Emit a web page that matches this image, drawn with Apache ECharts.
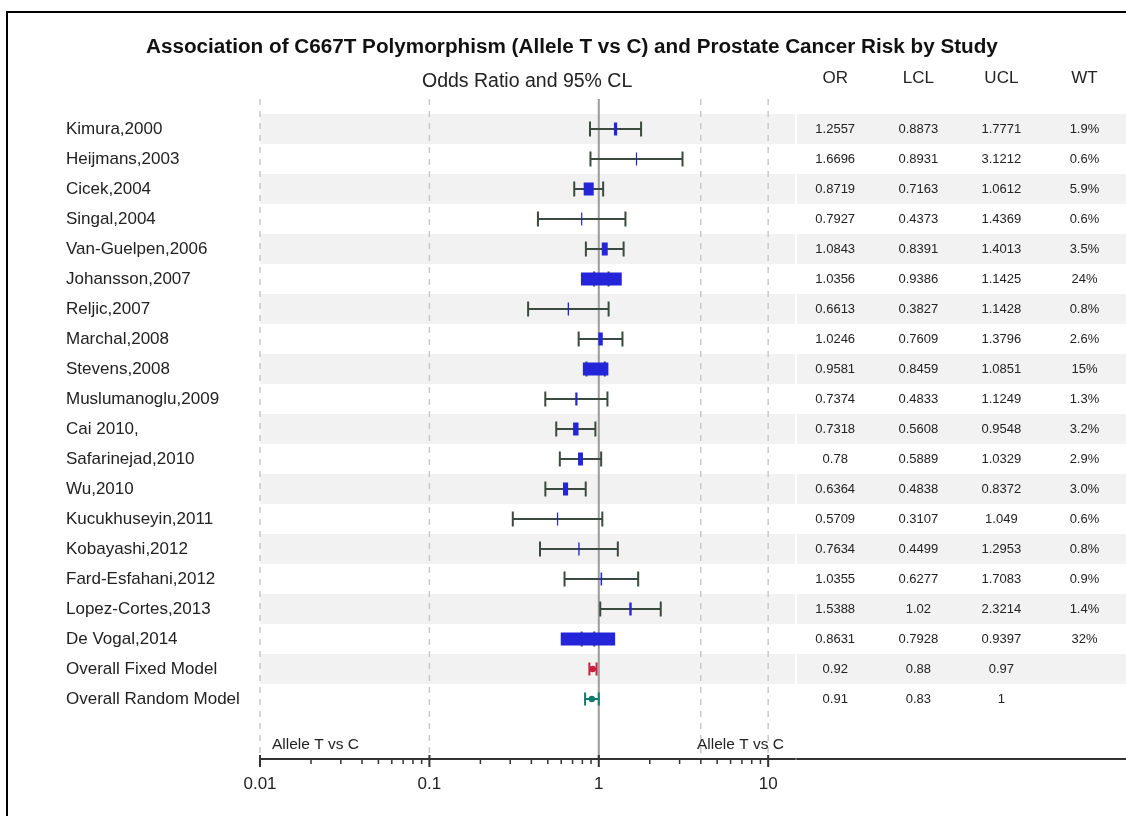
<!DOCTYPE html>
<html><head><meta charset="utf-8">
<script src="https://cdn.jsdelivr.net/npm/echarts@6/dist/echarts.min.js"></script>
<style>html,body{margin:0;padding:0;background:#fff}#c{width:1126px;height:816px}</style>
</head><body><div id="c"></div>
<script>
// ---------- data ----------
const studies = ['Kimura,2000','Heijmans,2003','Cicek,2004','Singal,2004','Van-Guelpen,2006','Johansson,2007','Reljic,2007','Marchal,2008','Stevens,2008','Muslumanoglu,2009','Cai 2010,','Safarinejad,2010','Wu,2010','Kucukhuseyin,2011','Kobayashi,2012','Fard-Esfahani,2012','Lopez-Cortes,2013','De Vogal,2014'];
const orVals  = [1.2557,1.6696,0.8719,0.7927,1.0843,1.0356,0.6613,1.0246,0.9581,0.7374,0.7318,0.78,0.6364,0.5709,0.7634,1.0355,1.5388,0.8631];
const lclVals = [0.8873,0.8931,0.7163,0.4373,0.8391,0.9386,0.3827,0.7609,0.8459,0.4833,0.5608,0.5889,0.4838,0.3107,0.4499,0.6277,1.02,0.7928];
const uclVals = [1.7771,3.1212,1.0612,1.4369,1.4013,1.1425,1.1428,1.3796,1.0851,1.1249,0.9548,1.0329,0.8372,1.049,1.2953,1.7083,2.3214,0.9397];
const wtVals  = [1.9,0.6,5.9,0.6,3.5,24,0.8,2.6,15,1.3,3.2,2.9,3.0,0.6,0.8,0.9,1.4,32];
const overallLabels = ['Overall Fixed Model','Overall Random Model'];
const overallOR  = [0.92,0.91];
const overallLCL = [0.88,0.83];
const overallUCL = [0.97,1];
const tableHeaders = ['OR','LCL','UCL','WT'];
const tickValues = [0.01,0.1,1,10];
const tickLabels = ['0.01','0.1','1','10'];
const refDashed = [0.01,0.1,4,10];
const refSolid = [1];
const sideLabel = 'Allele T vs C';
const titleText = 'Association of C667T Polymorphism (Allele T vs C) and Prostate Cancer Risk by Study';
const subText = 'Odds Ratio and 95% CL';

// ---------- derived ----------
const rowLabels = studies.concat(overallLabels);
const nRows = rowLabels.length;
const X_MIN = 0.01, X_MAX = 14.4, Y_MIN = -1, Y_MAX = 21;
const FONT = '"Liberation Sans", Arial, sans-serif';

const ciData = studies.map((s,i)=>[i, lclVals[i], uclVals[i], orVals[i], wtVals[i]]);
const ovData = overallLabels.map((s,k)=>[studies.length+k, overallLCL[k], overallUCL[k], overallOR[k], k]);
const bandRows = [];
for (let i=0;i<nRows;i+=2) bandRows.push([i]);
const minorTicks = [];
for (const d of [0.01,0.1,1]) for (let m=2;m<=9;m++) minorTicks.push(+(d*m).toPrecision(3));

function fmtWt(w){ return (w>=10 ? String(Math.round(w)) : w.toFixed(1)) + '%'; }
const tableCells = [];
const colPos = [0.5,1.5,2.5,3.5];
studies.forEach((s,i)=>{
  tableCells.push([colPos[0], i, String(orVals[i])]);
  tableCells.push([colPos[1], i, String(lclVals[i])]);
  tableCells.push([colPos[2], i, String(uclVals[i])]);
  tableCells.push([colPos[3], i, fmtWt(wtVals[i])]);
});
overallLabels.forEach((s,k)=>{
  const r = studies.length+k;
  tableCells.push([colPos[0], r, String(overallOR[k])]);
  tableCells.push([colPos[1], r, String(overallLCL[k])]);
  tableCells.push([colPos[2], r, String(overallUCL[k])]);
});
const headerCells = tableHeaders.map((h,j)=>[colPos[j], -1.7, h]);

const CI_COLOR = '#3b4a3e', BOX_COLOR = '#2424d8';
const OV_COLORS = ['#c8203e','#127a6c'];

const chart = echarts.init(document.getElementById('c'), null, {renderer:'canvas'});

const option = {
  animation:false,
  backgroundColor:'#fff',
  title:[
    {text:titleText, left:141, top:32, textStyle:{fontFamily:FONT, fontSize:20.7, fontWeight:'bold', color:'#111'}},
    {text:subText, left:417, top:67, textStyle:{fontFamily:FONT, fontSize:19.5, fontWeight:'normal', color:'#222'}}
  ],
  graphic:[
    {type:'rect', shape:{x:7,y:12,width:1200,height:900}, style:{fill:'none', stroke:'#000', lineWidth:2}, silent:true}
  ],
  grid:[
    {left:260, width:535, top:99, height:660},
    {left:797, right:0, top:99, height:660}
  ],
  xAxis:[
    {gridIndex:0, type:'log', logBase:10, min:X_MIN, max:X_MAX, position:'bottom',
     axisLine:{show:true, onZero:false, lineStyle:{color:'#333', width:2}},
     axisTick:{show:false}, axisLabel:{show:false}, splitLine:{show:false}, z:5},
    {gridIndex:1, type:'value', min:0.04, max:4, position:'bottom',
     axisLine:{show:true, onZero:false, lineStyle:{color:'#333', width:2}},
     axisTick:{show:false}, axisLabel:{show:false}, splitLine:{show:false}, z:5}
  ],
  yAxis:[
    {gridIndex:0, type:'value', inverse:true, min:Y_MIN, max:Y_MAX, interval:1,
     axisLine:{show:false}, axisTick:{show:false}, splitLine:{show:false},
     axisLabel:{show:true, align:'left', margin:194, fontFamily:FONT, fontSize:17, color:'#222',
       formatter:(v)=> (Number.isInteger(v) && v>=0 && v<nRows) ? rowLabels[v] : ''}},
    {gridIndex:1, type:'value', inverse:true, min:Y_MIN, max:Y_MAX, show:false}
  ],
  series:[
    // plot bands
    {type:'custom', xAxisIndex:0, yAxisIndex:0, z:1, silent:true, data:bandRows, encode:{y:0},
     renderItem:(p,api)=>{
       const r = api.value(0);
       const a = api.coord([X_MIN, r-0.5]), b = api.coord([X_MAX, r+0.5]);
       return {type:'rect', shape:{x:a[0], y:a[1], width:b[0]-a[0], height:b[1]-a[1]}, style:{fill:'#f2f2f2'}};
     }},
    // table bands
    {type:'custom', xAxisIndex:1, yAxisIndex:1, z:1, silent:true, data:bandRows, encode:{y:0},
     renderItem:(p,api)=>{
       const r = api.value(0);
       const a = api.coord([0.04, r-0.5]), b = api.coord([4, r+0.5]);
       return {type:'rect', shape:{x:a[0], y:a[1], width:b[0]-a[0], height:b[1]-a[1]}, style:{fill:'#f2f2f2'}};
     }},
    // dashed reference lines
    {type:'custom', xAxisIndex:0, yAxisIndex:0, z:2, silent:true, clip:false, data:refDashed.map(v=>[v]), encode:{x:0},
     renderItem:(p,api)=>{
       const v = api.value(0);
       const a = api.coord([v, Y_MIN]), b = api.coord([v, Y_MAX]);
       return {type:'line', shape:{x1:a[0], y1:a[1], x2:b[0], y2:b[1]}, style:{stroke:'#c9c9c9', lineWidth:1.5, lineDash:[6,6]}};
     }},
    // solid line at 1
    {type:'custom', xAxisIndex:0, yAxisIndex:0, z:2, silent:true, clip:false, data:refSolid.map(v=>[v]), encode:{x:0},
     renderItem:(p,api)=>{
       const v = api.value(0);
       const a = api.coord([v, Y_MIN]), b = api.coord([v, Y_MAX]);
       return {type:'line', shape:{x1:a[0], y1:a[1], x2:b[0], y2:b[1]}, style:{stroke:'#9c9c9c', lineWidth:2}};
     }},
    // study CIs and boxes
    {type:'custom', xAxisIndex:0, yAxisIndex:0, z:3, silent:true, data:ciData, encode:{x:[1,2,3], y:0},
     renderItem:(p,api)=>{
       const r = api.value(0), lo = api.value(1), hi = api.value(2), o = api.value(3), w = api.value(4);
       const pl = api.coord([lo, r]), ph = api.coord([hi, r]), po = api.coord([o, r]);
       const capH = 15, boxH = 13, boxW = Math.max(1.2, w*1.7);
       const st = {stroke:CI_COLOR, lineWidth:2};
       return {type:'group', children:[
         {type:'line', shape:{x1:pl[0], y1:pl[1], x2:ph[0], y2:ph[1]}, style:st},
         {type:'line', shape:{x1:pl[0], y1:pl[1]-capH/2, x2:pl[0], y2:pl[1]+capH/2}, style:st},
         {type:'line', shape:{x1:ph[0], y1:ph[1]-capH/2, x2:ph[0], y2:ph[1]+capH/2}, style:st},
         {type:'rect', shape:{x:po[0]-boxW/2, y:po[1]-boxH/2, width:boxW, height:boxH}, style:{fill:BOX_COLOR}}
       ]};
     }},
    // overall estimates
    {type:'custom', xAxisIndex:0, yAxisIndex:0, z:3, silent:true, data:ovData, encode:{x:[1,2,3], y:0},
     renderItem:(p,api)=>{
       const r = api.value(0), lo = api.value(1), hi = api.value(2), o = api.value(3), k = api.value(4);
       const pl = api.coord([lo, r]), ph = api.coord([hi, r]), po = api.coord([o, r]);
       const col = OV_COLORS[k], capH = 13;
       const st = {stroke:col, lineWidth:2};
       return {type:'group', children:[
         {type:'line', shape:{x1:pl[0], y1:pl[1], x2:ph[0], y2:ph[1]}, style:st},
         {type:'line', shape:{x1:pl[0], y1:pl[1]-capH/2, x2:pl[0], y2:pl[1]+capH/2}, style:st},
         {type:'line', shape:{x1:ph[0], y1:ph[1]-capH/2, x2:ph[0], y2:ph[1]+capH/2}, style:st},
         {type:'circle', shape:{cx:po[0], cy:po[1], r:3.2}, style:{fill:col}}
       ]};
     }},
    // axis ticks
    {type:'custom', xAxisIndex:0, yAxisIndex:0, z:6, silent:true, clip:false,
     data:tickValues.map(v=>[v,1]).concat(minorTicks.map(v=>[v,0])), encode:{x:0},
     renderItem:(p,api)=>{
       const v = api.value(0), major = api.value(1);
       const a = api.coord([v, Y_MAX]);
       return {type:'line', shape:{x1:a[0], y1:a[1]-(major?4:0), x2:a[0], y2:a[1]+(major?8:5)}, style:{stroke:'#333', lineWidth:major?2:1.5}};
     }},
    // axis tick labels
    {type:'custom', xAxisIndex:0, yAxisIndex:0, z:4, silent:true, clip:false,
     data:tickValues.map((v,i)=>[v, tickLabels[i]]), encode:{x:0},
     renderItem:(p,api)=>{
       const v = api.value(0);
       const a = api.coord([v, Y_MAX]);
       return {type:'text', x:a[0], y:a[1]+25, style:{text:tickLabels[p.dataIndex], fill:'#222', font:'17px '+FONT, align:'center', verticalAlign:'middle'}};
     }},
    // side labels
    {type:'custom', xAxisIndex:0, yAxisIndex:0, z:4, silent:true, clip:false,
     data:[[X_MIN, 20.52, 0],[X_MAX, 20.52, 1]], encode:{x:0, y:1},
     renderItem:(p,api)=>{
       const right = api.value(2);
       const a = api.coord([api.value(0), api.value(1)]);
       return {type:'text', x:a[0] + (right ? -11 : 12), y:a[1], style:{text:sideLabel, fill:'#222', font:'15.5px '+FONT, align:right?'right':'left', verticalAlign:'middle'}};
     }},
    // table cells
    {type:'custom', xAxisIndex:1, yAxisIndex:1, z:3, silent:true, clip:false,
     data:tableCells, encode:{x:0, y:1},
     renderItem:(p,api)=>{
       const a = api.coord([api.value(0), api.value(1)]);
       return {type:'text', x:a[0], y:a[1], style:{text:tableCells[p.dataIndex][2], fill:'#222', font:'13px '+FONT, align:'center', verticalAlign:'middle'}};
     }},
    // table headers
    {type:'custom', xAxisIndex:1, yAxisIndex:1, z:3, silent:true, clip:false,
     data:headerCells, encode:{x:0, y:1},
     renderItem:(p,api)=>{
       const a = api.coord([api.value(0), api.value(1)]);
       return {type:'text', x:a[0], y:a[1], style:{text:headerCells[p.dataIndex][2], fill:'#222', font:'17px '+FONT, align:'center', verticalAlign:'middle'}};
     }}
  ]
};
chart.setOption(option);
</script>
</body></html>
